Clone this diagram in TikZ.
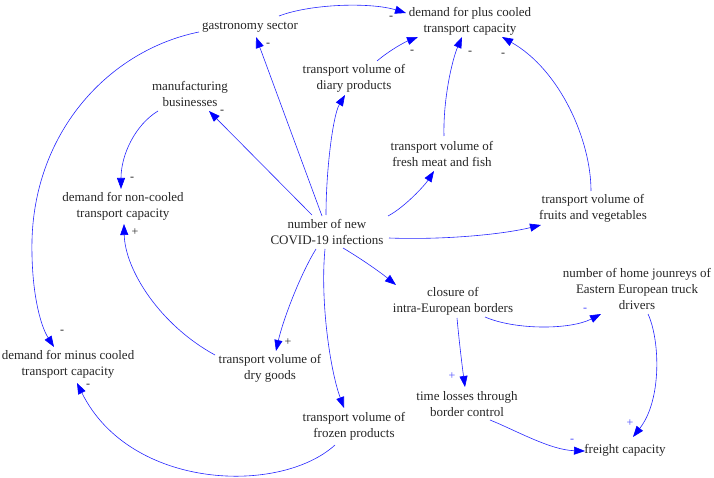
\documentclass[tikz,border=0pt]{standalone}
\usepackage{fontspec}
\setmainfont{Liberation Serif}
\usetikzlibrary{arrows.meta,calc}
\begin{document}
\begin{tikzpicture}[x=1pt,y=-1pt,
  lbl/.style={align=center, inner sep=0pt, text=black!85, font=\fontsize{13}{16}\selectfont},
  arr/.style={draw=blue!85!white, line width=0.6pt, -{Triangle[length=11pt,width=8pt,fill=blue,color=blue]}},
  sgn/.style={inner sep=0pt, font=\fontsize{12}{14}\selectfont, text=black!85},
  bsgn/.style={sgn, text=blue!70!white},
]
\useasboundingbox (0,0) rectangle (714,478);
% nodes
\node[lbl] (G) at (250,27) {gastronomy sector};
\node[lbl] (P) at (470,21) {demand for plus cooled\\transport capacity};
\node[lbl] (D) at (354,78) {transport volume of\\diary products};
\node[lbl] (M) at (190,94) {manufacturing\\businesses};
\node[lbl] (F) at (442,154) {transport volume of\\fresh meat and fish};
\node[lbl] (V) at (593,208) {transport volume of\\fruits and vegetables};
\node[lbl] (N) at (123,206) {demand for non-cooled\\transport capacity};
\node[lbl] (C) at (327,232) {number of new\\COVID-19 infections};
\node[lbl] (B) at (453,301) {closure of\\intra-European borders};
\node[lbl] (H) at (637,289) {number of home jounreys of\\Eastern European truck\\drivers};
\node[lbl] (T) at (467,404) {time losses through\\border control};
\node[lbl] (R) at (625,450) {freight capacity};
\node[lbl] (Mi) at (68,364) {demand for minus cooled\\transport capacity};
\node[lbl] (Y) at (270,368) {transport volume of\\dry goods};
\node[lbl] (Z) at (354,426) {transport volume of\\frozen products};
% connectors
\draw[arr] ($(C)+(-5,-16)$) -- ($(G)+(6,10)$);
\draw[arr] ($(C)+(-15,-17)$) -- ($(M)+(19,17)$);
\draw[arr] ($(C)+(-1,-17)$) .. controls (326,170) and (333,115) .. ($(D)+(-9,17)$);
\draw[arr] ($(D)+(23,-17)$) .. controls (390,50) and (405,42) .. ($(P)+(-52,16)$);
\draw[arr] ($(F)+(2,-18)$) .. controls (443,100) and (452,60) .. ($(P)+(-8,16)$);
\draw[arr] ($(V)+(-2,-17)$) .. controls (591,140) and (560,70) .. ($(P)+(32,16)$);
\draw[arr] ($(G)+(29,-11)$) .. controls (310,4) and (370,2) .. ($(P)+(-64,-8)$);
\draw[arr] ($(G)+(-51,5)$) .. controls (110,50) and (35,130) .. (32,240) .. controls (31,290) and (40,325) .. ($(Mi)+(-14,-17)$);
\draw[arr] ($(M)+(-32,17)$) .. controls (135,125) and (121,155) .. ($(N)+(-2,-17)$);
\draw[arr] ($(Y)+(-55,-13)$) .. controls (160,325) and (125,270) .. ($(N)+(1,18)$);
\draw[arr] ($(C)+(-11,17)$) .. controls (300,275) and (283,320) .. ($(Y)+(6,-17)$);
\draw[arr] ($(C)+(-2,17)$) .. controls (320,300) and (330,370) .. ($(Z)+(-10,-18)$);
\draw[arr] ($(Z)+(-19,19)$) .. controls (280,495) and (130,490) .. ($(Mi)+(9,19)$);
\draw[arr] ($(C)+(61,-16)$) .. controls (405,207) and (425,185) .. ($(F)+(-8,17)$);
\draw[arr] ($(C)+(62,6)$) .. controls (440,240) and (500,235) .. ($(V)+(-52,17)$);
\draw[arr] ($(C)+(16,16)$) .. controls (360,258) and (380,272) .. ($(B)+(-57,-16)$);
\draw[arr] ($(B)+(32,16)$) .. controls (515,330) and (570,330) .. ($(H)+(-36,25)$);
\draw[arr] ($(B)+(4,17)$) .. controls (459,340) and (462,365) .. ($(T)+(-2,-17)$);
\draw[arr] ($(T)+(23,16)$) .. controls (515,430) and (550,450) .. ($(R)+(-40,1)$);
\draw[arr] ($(H)+(11,25)$) .. controls (660,340) and (662,400) .. ($(R)+(8,-13)$);
% signs
\node[sgn] (s1) at (268,45) {-};
\node[sgn] (s2) at (222,112) {-};
\node[sgn] (s3) at (391,18) {-};
\node[sgn] (s4) at (412,52) {-};
\node[sgn] (s5) at (470,53) {-};
\node[sgn] (s6) at (503,55) {-};
\node[sgn] (s7) at (132,179) {-};
\node[sgn] (s8) at (135,232) {+};
\node[sgn] (s9) at (62,332) {-};
\node[sgn] (s10) at (88,386) {-};
\node[sgn] (s11) at (288,342) {+};
\node[bsgn] (s12) at (585,310) {-};
\node[bsgn] (s13) at (452,376) {+};
\node[bsgn] (s14) at (572,441) {-};
\node[bsgn] (s15) at (630,423) {+};
\end{tikzpicture}
\end{document}
